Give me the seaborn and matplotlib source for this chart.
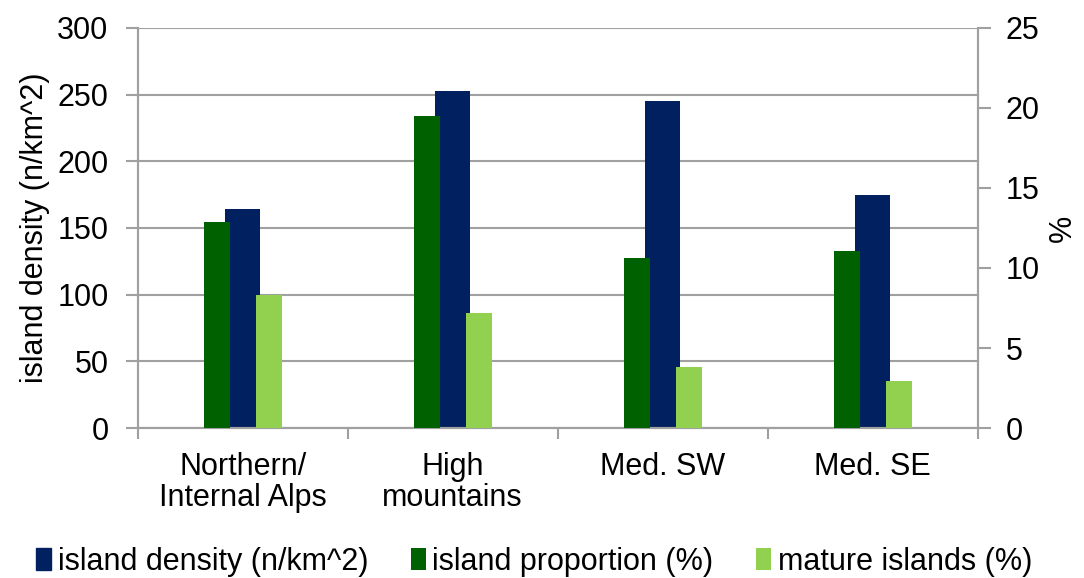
import numpy as np
import pandas as pd
import matplotlib
matplotlib.use("Agg")
import matplotlib.pyplot as plt
import seaborn as sns

# Dados
regioes = ["Northern/\nInternal Alps", "High\nmountains", "Med. SW", "Med. SE"]
densidade = [164, 252.5, 245, 175]          # n/km^2 (eixo esquerdo)
proporcao = [12.85, 19.5, 10.6, 11.08]      # % (eixo direito)
maduras = [8.33, 7.2, 3.8, 2.96]            # % (eixo direito)

cor_dens = "#002060"
cor_prop = "#006100"
cor_mat = "#92D050"
cinza = "#a0a0a0"

sns.set_style("white")
plt.rcParams["font.family"] = ["Liberation Sans", "DejaVu Sans"]
plt.rcParams["font.size"] = 22
for k in ("text.color", "axes.labelcolor", "xtick.color", "ytick.color"):
    plt.rcParams[k] = "black"

fig, ax = plt.subplots(figsize=(10.84, 5.78), dpi=100)
fig.subplots_adjust(left=0.127, right=0.902, top=0.9516, bottom=0.2595)

df = pd.DataFrame({"regiao": regioes, "densidade": densidade})
sns.barplot(data=df, x="regiao", y="densidade", ax=ax, color=cor_dens,
            width=0.167, saturation=1, linewidth=0, zorder=2)

# Eixo secundário (%)
ax2 = ax.twinx()
pos = np.arange(len(regioes))
larg = 0.124
ax2.bar(pos - larg, proporcao, width=larg, color=cor_prop, linewidth=0,
        label="island proportion (%)", zorder=3)
ax2.bar(pos + larg, maduras, width=larg, color=cor_mat, linewidth=0,
        label="mature islands (%)", zorder=3)

ax.set_ylim(0, 300)
ax.set_yticks(range(0, 301, 50))
ax2.set_ylim(0, 25)
ax2.set_yticks(range(0, 26, 5))
ax.set_xlim(-0.5, len(regioes) - 0.5)

# Grade e eixos
ax.yaxis.grid(True, color=cinza, linewidth=1.5, zorder=0)
ax.set_axisbelow(True)
for a in (ax, ax2):
    for s in a.spines.values():
        s.set_color(cinza)
        s.set_linewidth(1.5)
    a.spines["top"].set_visible(False)

ax.tick_params(axis="y", which="major", direction="out", length=9, width=1.5,
               color=cinza, pad=12, left=True)
ax2.tick_params(axis="y", which="major", direction="out", length=9, width=1.5,
                color=cinza, pad=11, right=True)
ax.set_xticks(pos)
ax.set_xticklabels(regioes, linespacing=1.05)
ax.set_xticks(np.arange(-0.5, len(regioes), 1), minor=True)
ax.tick_params(axis="x", which="major", length=0, pad=17)
ax.tick_params(axis="x", which="minor", direction="out", length=8, width=1.5,
               color=cinza, bottom=True)

ax.set_xlabel("")
ax.set_ylabel("island density (n/km^2)", labelpad=5)
ax2.set_ylabel("%", labelpad=6)

# Legenda na parte de baixo
patch_dens = plt.Rectangle((0, 0), 1, 1, color=cor_dens)
h2, l2 = ax2.get_legend_handles_labels()
fig.legend([patch_dens] + h2, ["island density (n/km^2)"] + l2,
           loc="lower left", bbox_to_anchor=(0.008, -0.045),
           ncol=3, frameon=False, handlelength=0.5, handleheight=0.7,
           handletextpad=0.2, columnspacing=1.4)

plt.savefig("out.png", dpi=100)
